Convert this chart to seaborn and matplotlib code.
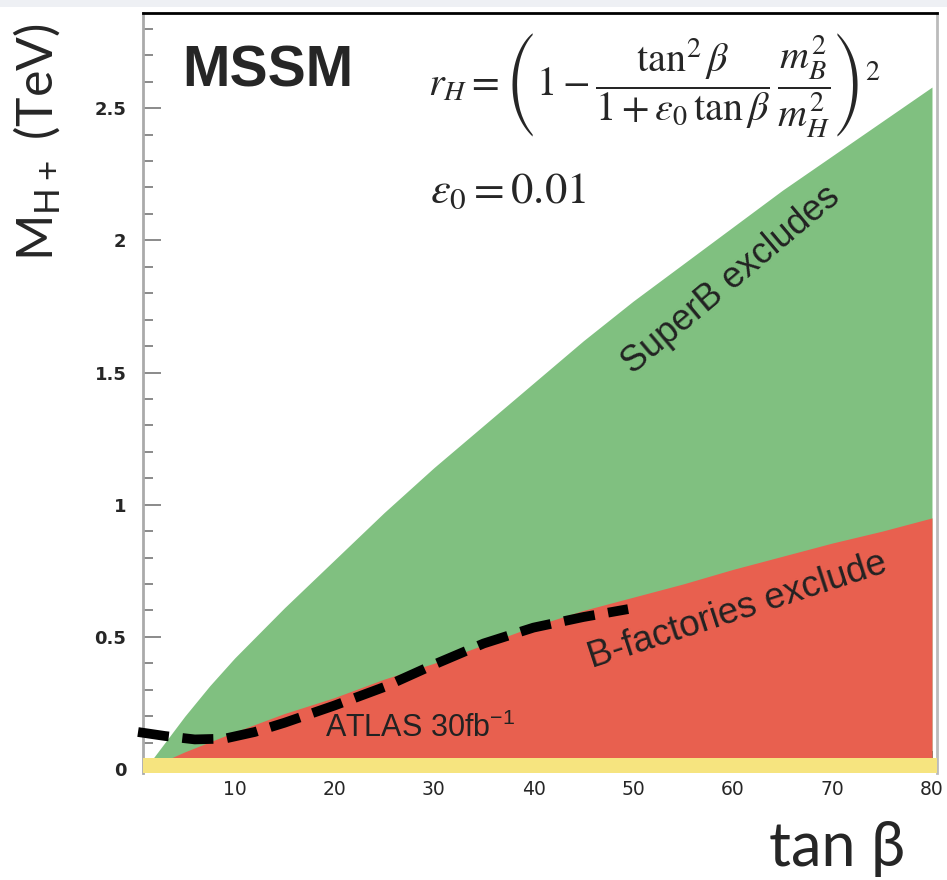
import pandas as pd
import matplotlib
matplotlib.use("Agg")
from matplotlib import pyplot as plt
from matplotlib.patches import Rectangle
from matplotlib.ticker import MultipleLocator
import seaborn as sns

# exclusion boundaries (tan beta, M_H+ in TeV)
tanb_superb = [1.8, 5, 7.5, 10, 15, 20, 25, 30, 35, 40, 45, 50, 55, 60, 65, 70, 75, 80]
mh_superb = [0.04, 0.20, 0.315, 0.42, 0.61, 0.79, 0.97, 1.14, 1.30, 1.46, 1.62, 1.77, 1.91, 2.05, 2.19, 2.32, 2.45, 2.58]

tanb_bfact = [3.5, 5, 10, 15, 20, 25, 30, 35, 40, 45, 50, 55, 60, 65, 70, 75, 80]
mh_bfact = [0.04, 0.065, 0.14, 0.21, 0.27, 0.34, 0.40, 0.47, 0.54, 0.60, 0.65, 0.70, 0.755, 0.805, 0.855, 0.90, 0.95]

tanb_atlas = [0.3, 3, 6, 9, 12, 15, 20, 25, 30, 35, 40, 45, 49.5]
mh_atlas = [0.14, 0.125, 0.112, 0.115, 0.14, 0.175, 0.24, 0.31, 0.395, 0.475, 0.535, 0.575, 0.605]

band_top = 0.04
y_min = -0.015

x_ticks = [10, 20, 30, 40, 50, 60, 70, 80]
y_ticks = [0, 0.5, 1, 1.5, 2, 2.5]
y_labels = ["0", "0.5", "1", "1.5", "2", "2.5"]

sns.set_style("ticks")
plt.rcParams["font.family"] = ["Liberation Sans", "DejaVu Sans"]

green = "#80c080"
red = "#e8604f"
yellow = "#f6e47f"

fig = plt.figure(figsize=(9.47, 8.8), dpi=100)
fig.patches.append(Rectangle((0, 1 - 7 / 880), 1, 7 / 880, transform=fig.transFigure,
                             color="#eef0f4", lw=0))
ax = fig.add_axes([0.151, 0.1216, 0.8384, 0.8636])

ax.fill_between(tanb_superb, band_top, mh_superb, color=green, lw=0, zorder=1)
ax.fill_between(tanb_bfact, band_top, mh_bfact, color=red, lw=0, zorder=1.1)
ax.axhspan(y_min, band_top, color=yellow, lw=0, zorder=3)

atlas = pd.DataFrame({"tanb": tanb_atlas, "mh": mh_atlas})
sns.lineplot(data=atlas, x="tanb", y="mh", ax=ax, color="black", lw=7,
             clip_on=False, zorder=4)
ax.lines[-1].set_dashes((3.2, 1.4))

ax.set_xlim(0.8, 80.5)
ax.set_ylim(y_min, 2.86)
ax.set_xticks(x_ticks)
ax.set_xticklabels([str(t) for t in x_ticks])
ax.set_yticks(y_ticks)
ax.set_yticklabels(y_labels)
ax.yaxis.set_minor_locator(MultipleLocator(0.1))
ax.tick_params(axis="y", which="major", direction="in", length=13, width=1.2,
               color="#777777", pad=12)
ax.tick_params(axis="y", which="minor", direction="in", length=7, width=1.2,
               color="#777777")
ax.tick_params(axis="x", direction="in", length=16, width=1.3, color="#555555",
               pad=5)
for lab in ax.get_yticklabels():
    lab.set_fontweight("bold")
    lab.set_family("DejaVu Sans")
    lab.set_fontsize(13)
for lab in ax.get_xticklabels():
    lab.set_family("DejaVu Sans")
    lab.set_fontsize(13.5)

ax.spines["top"].set_color("black")
ax.spines["top"].set_linewidth(2)
ax.spines["left"].set_color("#aaaaaa")
ax.spines["left"].set_linewidth(2)
ax.spines["right"].set_color("#bbbbbb")
ax.spines["right"].set_linewidth(2)
ax.spines["bottom"].set_visible(False)

ax.set_ylabel(r"$\mathregular{M_{H+}}$ (TeV)", fontsize=36,
              family=["Lato", "DejaVu Sans"], va="center")
ax.yaxis.set_label_coords(-0.1335, 0.83)
ax.set_xlabel("tan β", fontsize=44, family=["Lato", "DejaVu Sans"], va="top")
ax.xaxis.set_label_coords(0.874, -0.062)

ax.text(0.05, 0.903, "MSSM", transform=ax.transAxes, fontsize=41,
        fontweight="bold", ha="left", va="baseline")
ax.text(0.359, 0.905,
        r"$r_H = \left(1 - \dfrac{\tan^2\beta}{1+\varepsilon_0\,\tan\beta}\,\dfrac{m_B^2}{m_H^2}\right)^2$",
        transform=ax.transAxes, fontsize=29, math_fontfamily="stix",
        ha="left", va="center")
ax.text(0.361, 0.75, r"$\varepsilon_0 = 0.01$", transform=ax.transAxes,
        fontsize=32, math_fontfamily="stix", ha="left", va="baseline")

ax.text(59.8, 1.85, "SuperB excludes", rotation=40, rotation_mode="anchor",
        ha="center", va="center", fontsize=26, color="#222222")
ax.text(60.5, 0.60, "B-factories exclude", rotation=18, rotation_mode="anchor",
        ha="center", va="center", fontsize=26.5, color="#222222")
ax.text(19.1, 0.12, r"ATLAS 30fb$^{\mathregular{-1}}$", ha="left",
        va="baseline", fontsize=22, color="#222222", zorder=5)

plt.savefig("out.png", dpi=100)
